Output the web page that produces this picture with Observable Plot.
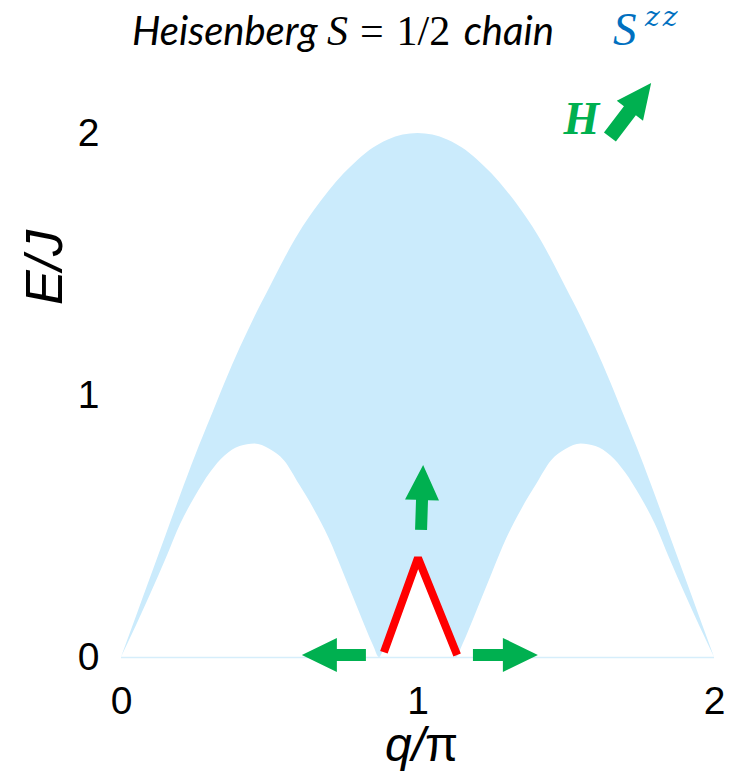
<!DOCTYPE html>
<html>
<head>
<meta charset="utf-8">
<script src="https://cdn.jsdelivr.net/npm/d3@7"></script>
<script src="https://cdn.jsdelivr.net/npm/@observablehq/plot@0.6"></script>
<style>
  html, body { margin: 0; padding: 0; background: #fff; }
  #page { position: relative; width: 732px; height: 779px; overflow: hidden; }
  #head { position: relative; width: 732px; height: 60px; }
  #title { position: absolute; left: 132px; top: 10px; font: italic 40px "Lato", "Open Sans", sans-serif; color: #000; white-space: nowrap; line-height: 1; }
  #title .m { font-family: "Liberation Serif", serif; font-size: 42px; }
  #title .u { font-style: normal; }
  #title .eq { margin: 0 13px 0 12px; }
  #title .c { margin-left: 4px; }
  .tag { position: absolute; color: #0070c0; font-style: italic; white-space: nowrap; line-height: 1; }
  #tagS { left: 613px; top: 6px; font-size: 47px; font-family: "Liberation Serif", serif; }
  #tagZ { left: 645px; top: 3px; font-size: 28px; font-family: "DejaVu Serif", serif; letter-spacing: 3px; }
</style>
</head>
<body>
<div id="page">
  <div id="head">
    <div id="title">Heisenberg <span class="m">S</span><span class="m u"><span class="eq">=</span>1/2</span><span class="c"> chain</span></div>
    <div class="tag" id="tagS">S</div>
    <div class="tag" id="tagZ">zz</div>
  </div>
  <div id="chart"></div>
</div>
<script>
// Momentum grid (units of π) and the two edges of the S^zz continuum (units of J)
const q = [0, 0.05, 0.1, 0.15, 0.2, 0.25, 0.3, 0.35, 0.4, 0.45, 0.5, 0.55, 0.6, 0.65, 0.7, 0.75, 0.8, 0.85, 0.87,
           0.9, 0.95, 1.0, 1.05, 1.1, 1.13, 1.15, 1.2, 1.25, 1.3, 1.35, 1.4, 1.45, 1.5, 1.55, 1.6, 1.65, 1.7, 1.75,
           1.8, 1.85, 1.9, 1.95, 2.0];
const upperEdge = [0, 0.155, 0.31, 0.465, 0.62, 0.77, 0.91, 1.05, 1.18, 1.30, 1.41, 1.52, 1.62, 1.705, 1.78, 1.845, 1.90, 1.945, 1.958,
                   1.975, 1.994, 2.0, 1.994, 1.975, 1.958, 1.945, 1.90, 1.845, 1.78, 1.705, 1.62, 1.52, 1.41, 1.30, 1.18, 1.05, 0.91, 0.77,
                   0.62, 0.465, 0.31, 0.155, 0];
const lowerEdge = [0, 0.12, 0.245, 0.375, 0.51, 0.615, 0.705, 0.77, 0.805, 0.815, 0.795, 0.75, 0.66, 0.565, 0.455, 0.32, 0.18, 0.045, 0,
                   0.09, 0.235, 0.38, 0.235, 0.09, 0, 0.045, 0.18, 0.32, 0.455, 0.565, 0.66, 0.75, 0.795, 0.815, 0.805, 0.77, 0.705, 0.615,
                   0.51, 0.375, 0.245, 0.12, 0];

// Soft-mode cusp at q = π
const cuspQ = [0.885, 1.0, 1.132];
const cuspE = [0.02, 0.38, 0.01];

// Field-induced shifts: arrows from tail (q1, E1) to tip (q2, E2)
const shiftQ1 = [0.826, 1.187, 1.012];
const shiftE1 = [0.008, 0.008, 0.485];
const shiftQ2 = [0.610, 1.406, 1.019];
const shiftE2 = [0.008, 0.008, 0.733];

// Field direction marker
const fieldLabel = ["H"];
const fieldAt = [1.551, 2.053];
const fieldArrow = [1.649, 1.985, 1.788, 2.191];

const xTicks = [0, 1, 2];
const yTicks = [0, 1, 2];

const band = q.map((v, i) => ({q: v, lo: lowerEdge[i], hi: upperEdge[i]}));
const cusp = cuspQ.map((v, i) => ({q: v, E: cuspE[i]}));
const shifts = shiftQ1.map((v, i) => ({q1: v, E1: shiftE1[i], q2: shiftQ2[i], E2: shiftE2[i]}));
const fieldShift = [{q1: fieldArrow[0], E1: fieldArrow[1], q2: fieldArrow[2], E2: fieldArrow[3]}];

const green = "#00b050";

// Filled block arrows, positioned through the plot's x/y scales
function blockArrows(data, {shaft = 12, headLength = 35, headWidth = 34, fill = green} = {}) {
  return (index, scales) => {
    const g = d3.create("svg:g").attr("fill", fill);
    for (const a of data) {
      const x1 = scales.x(a.q1), y1 = scales.y(a.E1);
      const x2 = scales.x(a.q2), y2 = scales.y(a.E2);
      const L = Math.hypot(x2 - x1, y2 - y1);
      const ux = (x2 - x1) / L, uy = (y2 - y1) / L;
      const px = -uy, py = ux;
      const bx = x2 - ux * headLength, by = y2 - uy * headLength;
      const s = shaft / 2, h = headWidth / 2;
      const pts = [
        [x1 + px * s, y1 + py * s], [bx + px * s, by + py * s], [bx + px * h, by + py * h],
        [x2, y2],
        [bx - px * h, by - py * h], [bx - px * s, by - py * s], [x1 - px * s, y1 - py * s]
      ];
      g.append("path").attr("d", "M" + pts.map(p => p.join(",")).join("L") + "Z");
    }
    return g.node();
  };
}

const chart = Plot.plot({
  width: 732,
  height: 719,
  marginLeft: 121,
  marginRight: 18,
  marginTop: 73,
  marginBottom: 122,
  style: {fontFamily: "'Liberation Sans', Arial, sans-serif", fontSize: "39px", color: "#000", background: "#fff", overflow: "visible"},
  x: {domain: [0, 2], ticks: xTicks, tickSize: 0, tickPadding: 29, tickFormat: d3.format("d"), label: null},
  y: {domain: [0, 2], ticks: yTicks, tickSize: 0, tickPadding: 22, tickFormat: d3.format("d"), label: null},
  marks: [
    Plot.areaY(band, {x: "q", y1: "lo", y2: "hi", fill: "#cbebfc", curve: "monotone-x"}),
    Plot.ruleY([0], {stroke: "#d6eefb", strokeWidth: 1.5}),
    Plot.line(cusp, {x: "q", y: "E", stroke: "#ff0000", strokeWidth: 8, strokeLinejoin: "miter", strokeLinecap: "butt"}),
    blockArrows(shifts),
    blockArrows(fieldShift, {shaft: 15, headLength: 35, headWidth: 33}),
    Plot.text(fieldLabel, {x: () => fieldAt[0], y: () => fieldAt[1], text: d => d, fill: green,
      fontFamily: "'Liberation Serif', serif", fontWeight: "bold", fontStyle: "italic", fontSize: 46, lineAnchor: "middle"}),
    // axis titles
    Plot.text(["E/J"], {frameAnchor: "top-left", dx: -76, dy: 134, rotate: -90, text: d => d,
      fontStyle: "italic", fontSize: 52, textAnchor: "middle", lineAnchor: "middle"}),
    Plot.text(["q/"], {frameAnchor: "bottom", dx: 7, dy: 103, text: d => d,
      fontStyle: "italic", fontSize: 48, textAnchor: "end", lineAnchor: "bottom"}),
    Plot.text(["π"], {frameAnchor: "bottom", dx: 7, dy: 103, text: d => d,
      fontSize: 48, textAnchor: "start", lineAnchor: "bottom"})
  ]
});

document.getElementById("chart").appendChild(chart);
</script>
</body>
</html>
